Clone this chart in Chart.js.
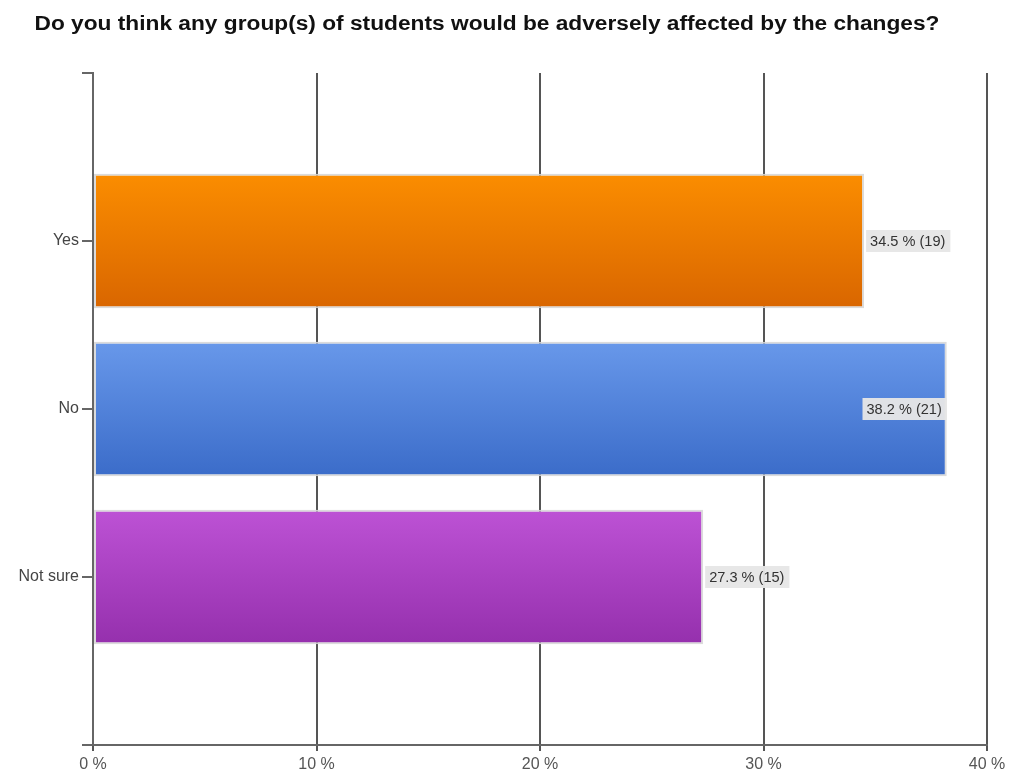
<!DOCTYPE html>
<html>
<head>
<meta charset="utf-8">
<script src="https://cdn.jsdelivr.net/npm/chart.js@4.4.4/dist/chart.umd.min.js"></script>
<style>
  html, body { margin: 0; padding: 0; background: #fff; }
  #wrap { width: 1010px; height: 774px; }
</style>
</head>
<body>
<div id="wrap"><canvas id="chart" width="1010" height="774"></canvas></div>
<script>
const title = "Do you think any group(s) of students would be adversely affected by the changes?";
const categories = ["Yes", "No", "Not sure"];
const percents = [34.5, 38.2, 27.3];
const counts = [19, 21, 15];
const xTicks = [0, 10, 20, 30, 40];
const barTops = ["#fb8d00", "#6898ea", "#bd52d5"];
const barBottoms = ["#d96600", "#3b6cc9", "#9530ad"];

// blank slots above and below keep the bars away from the ends of the axis
const labels = ["", ...categories, ""];
const values = [null, ...percents, null];

const FONT = "'Liberation Sans', Arial, sans-serif";

function barFill(ctx) {
  const i = ctx.dataIndex - 1;
  if (i < 0 || i >= categories.length) return "transparent";
  const chart = ctx.chart;
  const area = chart.chartArea;
  if (!area) return barTops[i];
  const y = chart.scales.y.getPixelForValue(ctx.dataIndex);
  const half = (area.bottom - area.top) / (labels.length - 1) * 0.8 / 2;
  const g = chart.ctx.createLinearGradient(0, y - half, 0, y + half);
  g.addColorStop(0, barTops[i]);
  g.addColorStop(1, barBottoms[i]);
  return g;
}

// bold heading, stretched a little to span the plot
const heading = {
  id: "heading",
  afterDraw(chart) {
    const ctx = chart.ctx;
    ctx.save();
    ctx.font = "bold 20px " + FONT;
    ctx.fillStyle = "#111";
    ctx.textBaseline = "middle";
    const w = ctx.measureText(title).width;
    const target = 905;
    const sx = target / w;
    ctx.translate(487 - target / 2, 24);
    ctx.scale(sx, 1);
    ctx.fillText(title, 0, 0);
    ctx.restore();
  }
};

// "value % (count)" tags at the end of each bar
const valueLabels = {
  id: "valueLabels",
  afterDatasetsDraw(chart) {
    const { ctx, chartArea } = chart;
    const meta = chart.getDatasetMeta(0);
    ctx.save();
    ctx.font = "14px " + FONT;
    ctx.textBaseline = "middle";
    meta.data.forEach((bar, idx) => {
      const i = idx - 1;
      if (i < 0 || i >= categories.length) return;
      const text = percents[i] + " % (" + counts[i] + ")";
      const sx = 1.04;
      const w = ctx.measureText(text).width * sx + 9;
      const h = 22;
      let left = bar.x + 2;
      if (left + w > chartArea.right - 4) left = bar.x - w;
      ctx.fillStyle = "rgba(230,230,230,0.96)";
      ctx.fillRect(left, bar.y - h / 2, w, h);
      ctx.fillStyle = "#333";
      ctx.save();
      ctx.translate(left + 4, bar.y + 1);
      ctx.scale(sx, 1);
      ctx.fillText(text, 0, 0);
      ctx.restore();
    });
    ctx.restore();
  }
};

new Chart(document.getElementById("chart"), {
  type: "bar",
  data: {
    labels: labels,
    datasets: [{
      data: values,
      backgroundColor: barFill,
      borderColor: "rgba(215,215,215,0.9)",
      borderWidth: 2,
      borderSkipped: false,
      categoryPercentage: 1,
      barPercentage: 0.8
    }]
  },
  options: {
    indexAxis: "y",
    responsive: false,
    animation: false,
    layout: { padding: { top: 73, right: 23, left: 0, bottom: 0 } },
    plugins: {
      legend: { display: false },
      title: { display: false },
      tooltip: { enabled: false }
    },
    scales: {
      x: {
        min: 0,
        max: 40,
        afterBuildTicks: (scale) => { scale.ticks = xTicks.map((v) => ({ value: v })); },
        ticks: {
          callback: (v) => v + " %",
          font: { size: 16, family: FONT },
          color: "#555",
          padding: 4,
          maxRotation: 0
        },
        grid: { color: "#555", lineWidth: 2, tickLength: 6 },
        border: { color: "#666", width: 2 },
        afterFit: (scale) => { scale.height = 29; }
      },
      y: {
        offset: false,
        grid: { offset: false, drawOnChartArea: false, tickLength: 11, color: "#666", lineWidth: 2 },
        border: { color: "#666", width: 2 },
        ticks: { font: { size: 16, family: FONT }, color: "#444", padding: 3, autoSkip: false },
        afterFit: (scale) => { scale.width = 93; }
      }
    }
  },
  plugins: [heading, valueLabels]
});
</script>
</body>
</html>
